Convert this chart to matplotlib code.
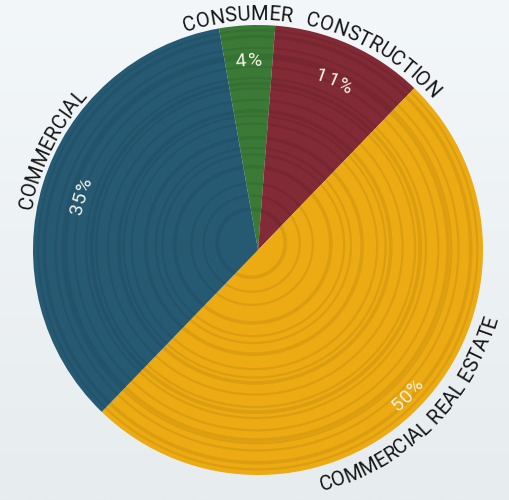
import numpy as np
import matplotlib
matplotlib.use("Agg")
import matplotlib.pyplot as plt
from matplotlib.font_manager import FontProperties
from matplotlib.textpath import text_to_path
from matplotlib.patches import Circle

# loan portfolio mix, clockwise from the top
categories = ["CONSUMER", "CONSTRUCTION", "COMMERCIAL REAL ESTATE", "COMMERCIAL"]
shares = [4, 11, 50, 35]
colors = ["#3a7a36", "#822a35", "#ecaa13", "#265a73"]

W, H = 509, 500
DPI = 100
PX = 100 / 72  # points -> pixels

fig = plt.figure(figsize=(W / DPI, H / DPI), dpi=DPI)
ax = fig.add_axes([0, 0, 1, 1])

# soft misty background, lighter at the top
grad = np.linspace(0, 1, 200)[:, None] * np.ones((1, 10))
top = np.array([0xf3, 0xf7, 0xfa]) / 255
bot = np.array([0xe7, 0xec, 0xee]) / 255
bg = top + (bot - top) * grad[..., None]
ax.imshow(bg, extent=[0, W, 0, H], origin="upper", aspect="auto", zorder=0)

cx, cy, R = 258, 250, 225
wedges, _ = ax.pie(shares, colors=colors, startangle=100, counterclock=False,
                   center=(cx, cy), radius=R, frame=True,
                   wedgeprops=dict(linewidth=0, zorder=2))
ax.set_xlim(0, W)
ax.set_ylim(0, H)
ax.set_aspect("equal")
ax.axis("off")

# wood grain rings, packed tighter toward the bark
clip = Circle((cx, cy), R, transform=ax.transData)
k = np.arange(1, 21)
ring_r = R * (k / 21) ** 0.65 + 3 * np.sin(k * 1.7)
for i, rr in enumerate(ring_r):
    off = 8 * (1 - rr / R)
    c = Circle((cx - off, cy + off), rr, fill=False, ec="black",
               lw=1.6 + 1.0 * (i % 3 == 0), alpha=0.07, zorder=3)
    c.set_clip_path(clip)
    ax.add_patch(c)


def char_widths(s, prop):
    return [text_to_path.get_text_width_height_descent(s[:i], prop, ismath=False)[0] if i else 0
            for i in range(len(s) + 1)]


def curved_text(s, theta_c, r, size, color, top=True, family="Roboto", spacing=1.0):
    prop = FontProperties(family=family, size=size * PX)
    w = char_widths(s, prop)
    total = w[-1] * spacing
    for i, ch in enumerate(s):
        mid = (w[i] + w[i + 1]) / 2 * spacing - total / 2
        if top:
            th = theta_c - np.degrees(mid / r)
            rot = th - 90
        else:
            th = theta_c + np.degrees(mid / r)
            rot = th + 90
        x = cx + r * np.cos(np.radians(th))
        y = cy + r * np.sin(np.radians(th))
        ax.text(x, y, ch, fontsize=size, family=family, color=color,
                ha="center", va="baseline", rotation=rot,
                rotation_mode="anchor", zorder=6)


# mid-angle of each wedge in degrees
bounds = 100 - np.cumsum([0] + shares) * 3.6
mids = (bounds[:-1] + bounds[1:]) / 2

# outer category labels
curved_text(categories[0], 95.0, 230, 14.5, "#151515")
curved_text(categories[1], 59.5, 230, 14.5, "#151515")
curved_text(categories[2], -45.5, 249, 14.5, "#151515", top=False)
curved_text(categories[3], 154, 230, 14.5, "#151515")

# percentage labels inside wedges
pct_r = [184, 180, 214, 180]
for i, v in enumerate(shares):
    m = mids[i] if mids[i] > -180 else mids[i] + 360
    top = m > 0
    curved_text(f"{v}%", m, pct_r[i], 14, "#f3efe4", top=top, spacing=1.1)

fig.savefig("out.png", dpi=DPI)
